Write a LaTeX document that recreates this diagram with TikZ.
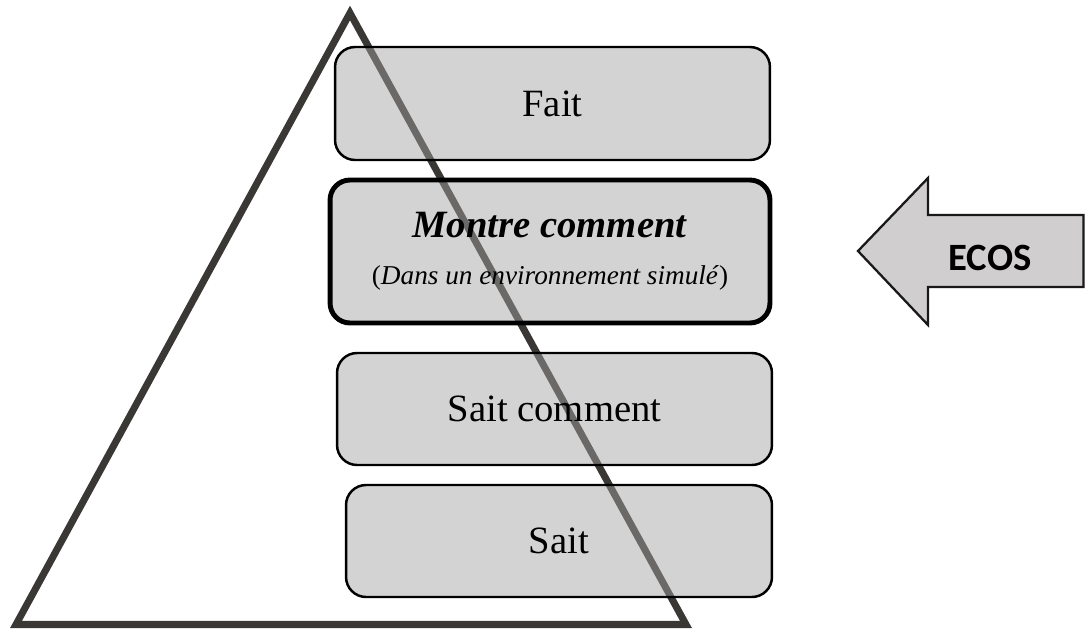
\documentclass[tikz,border=0pt]{standalone}
\usepackage{fontspec}
\setmainfont{Liberation Serif}
\newfontfamily\ecosfont{Carlito}
\usepackage{tikz}

\definecolor{trigray}{RGB}{58,56,53}
\definecolor{boxgray}{RGB}{162,162,162}
\definecolor{arrowgray}{RGB}{208,206,207}

\begin{document}
\begin{tikzpicture}
            [
            x=0.02cm, y=-0.02cm,
            level/.style={draw=black, line width=1.4pt, rounded corners=0.4cm,
                fill=boxgray, fill opacity=0.47, text opacity=1,
                font={\fontsize{22}{26}\selectfont}},
            pyramid/.style={draw=trigray, line width=4pt, line join=miter},
            ]
            \useasboundingbox (0,0) rectangle (1086,629);
            % Pyramid (behind the boxes)
            \draw[pyramid] (350,13) -- (686,624.5) -- (16,624.5) -- cycle;

            % Levels
            \node[level, minimum width=8.7cm, minimum height=2.26cm] (fait) at (552.5,103.5) {Fait};
            \node[level, line width=2.8pt, minimum width=8.8cm, minimum height=2.86cm, align=center] (montre) at (550,251.5)
                {\textbf{\textit{Montre comment}}\\[1pt]
                {\fontsize{15.5}{18}\selectfont (\textit{Dans un environnement simulé})}};
            \node[level, minimum width=8.7cm, minimum height=2.24cm] (saitcomment) at (554.5,409) {Sait comment};
            \node[level, minimum width=8.52cm, minimum height=2.24cm] (sait) at (559,541) {Sait};

            % ECOS arrow
            \draw[fill=arrowgray, draw=black!90, line width=1.3pt]
                (858,251) -- (928,178) -- (928,215) -- (1083.5,215) -- (1083.5,287)
                -- (928,287) -- (928,325) -- cycle;
            \node[font={\ecosfont\bfseries\fontsize{22}{26}\selectfont}] (ecos) at (990,257.5) {ECOS};
        \end{tikzpicture}
\end{document}
